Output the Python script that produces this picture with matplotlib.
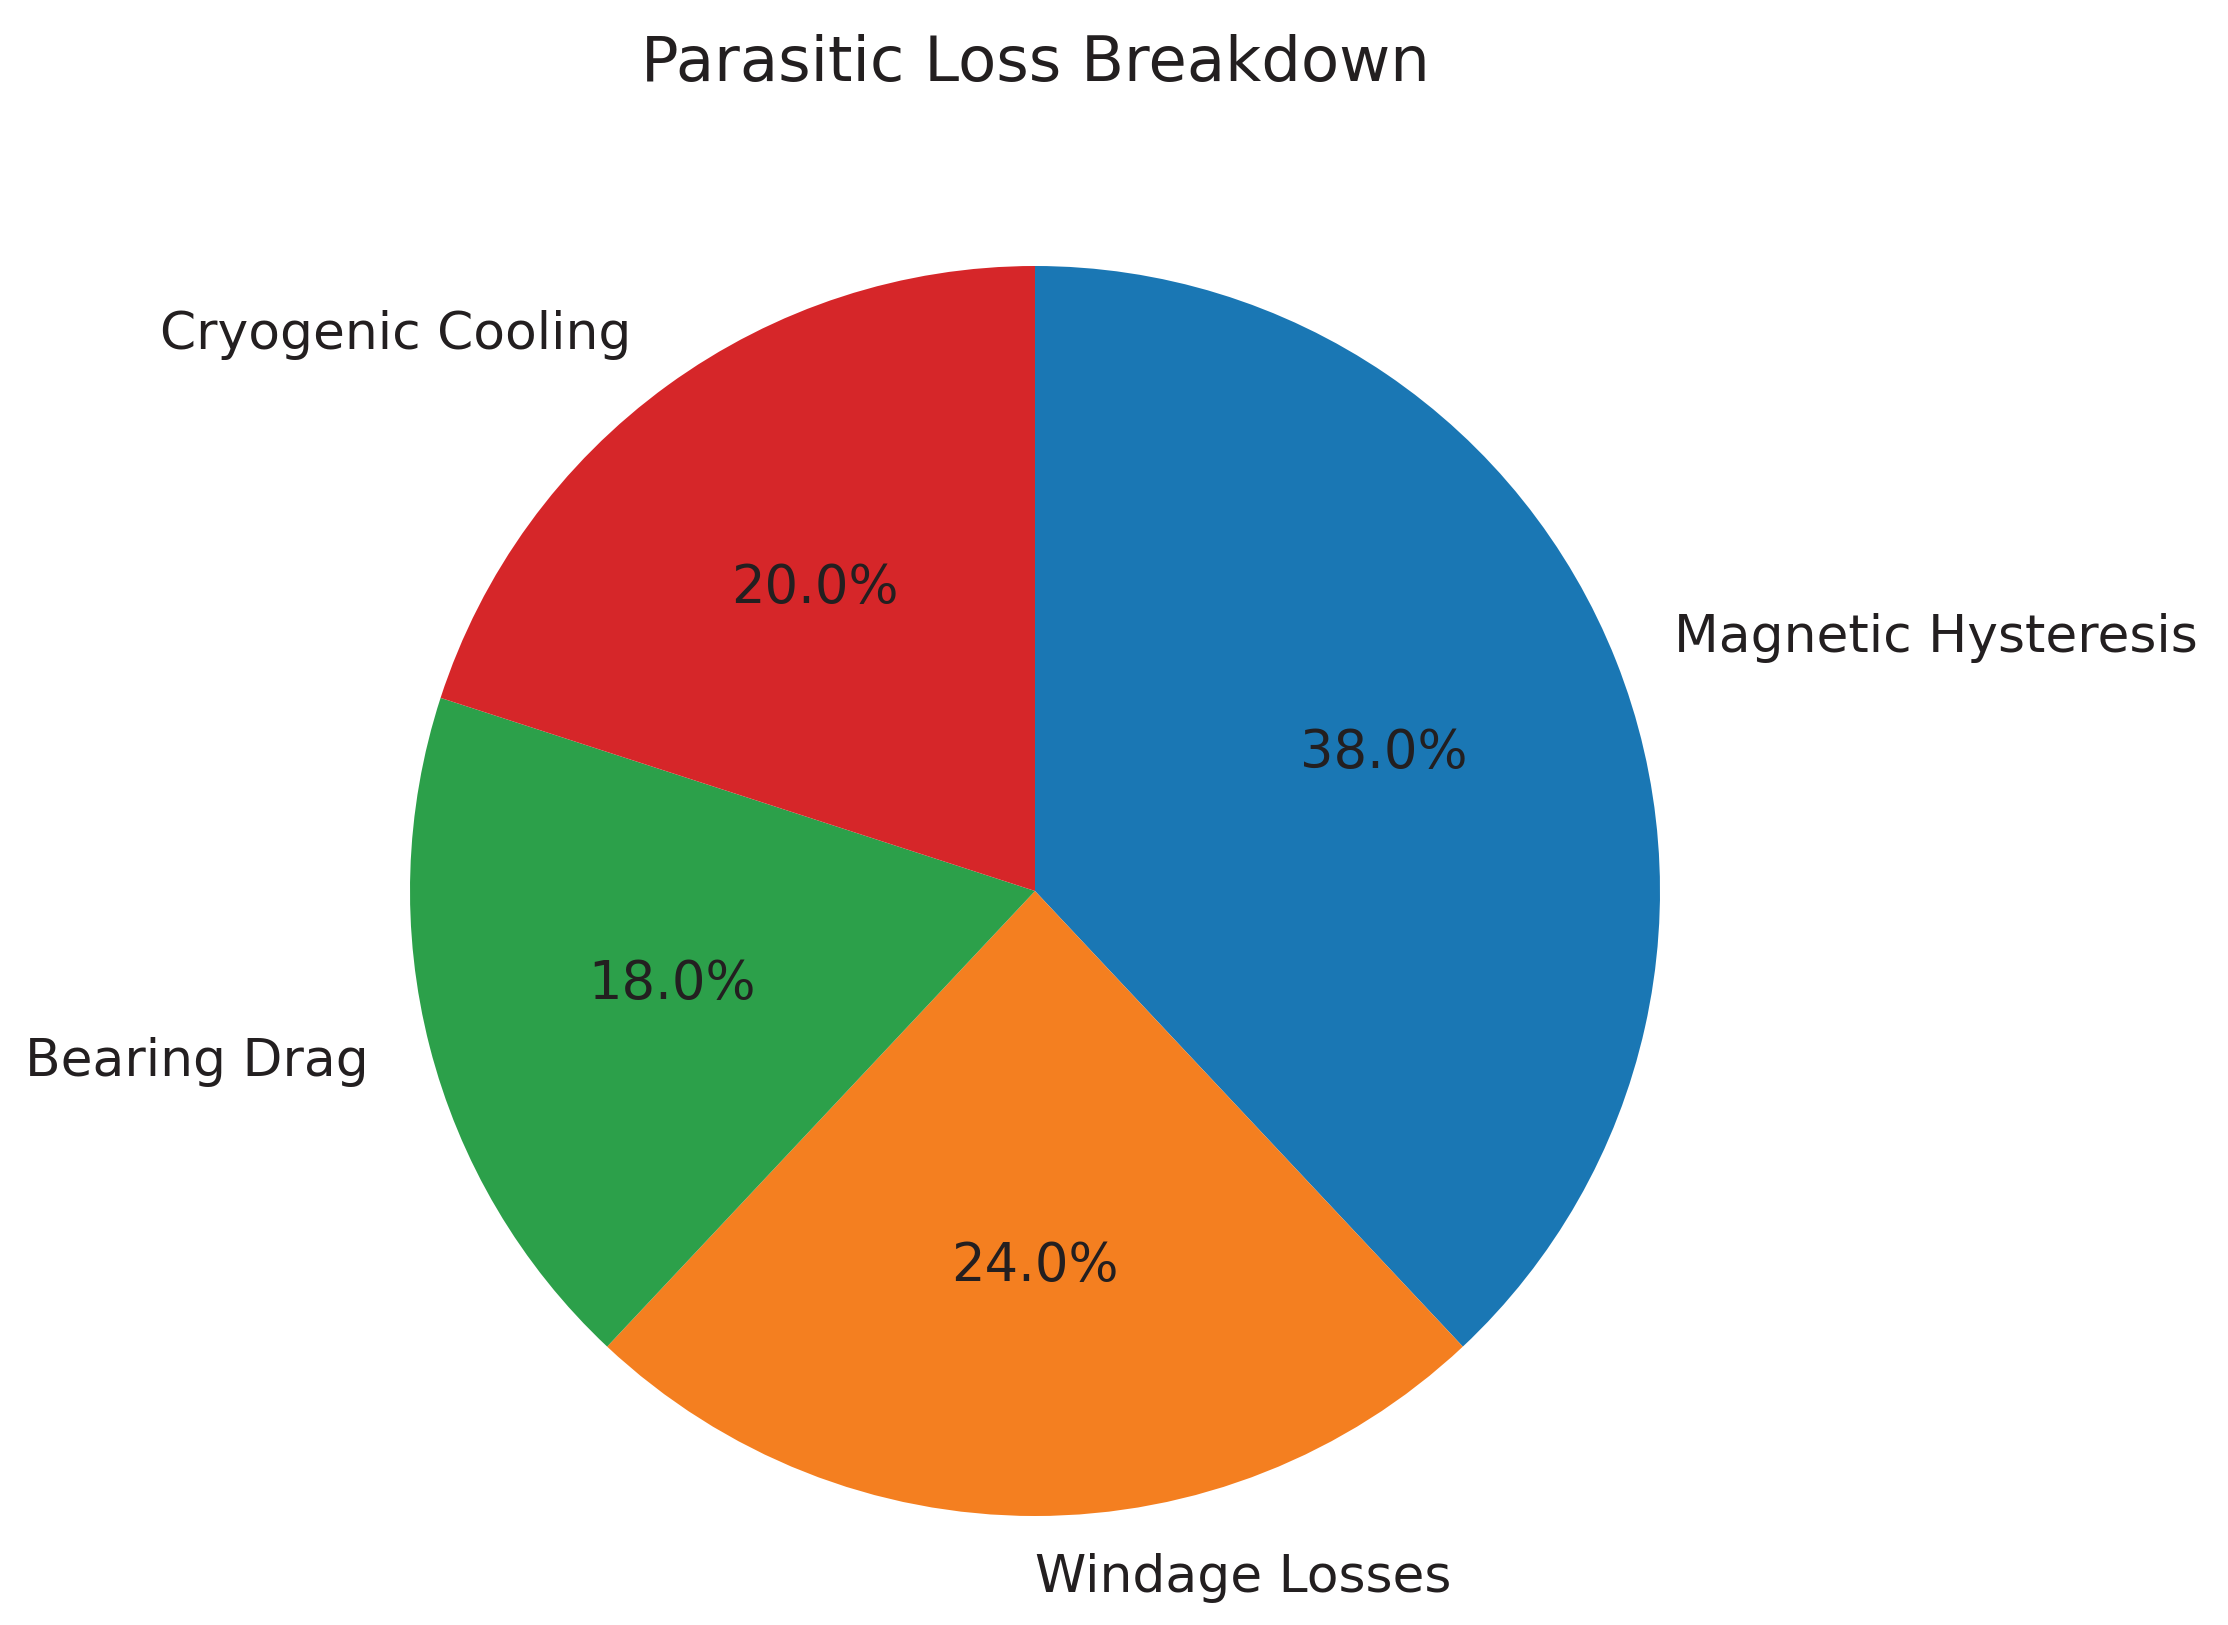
import matplotlib
matplotlib.use("Agg")
import matplotlib.pyplot as plt

labels = ["Magnetic Hysteresis", "Windage Losses", "Bearing Drag", "Cryogenic Cooling"]
values = [38.0, 24.0, 18.0, 20.0]
colors = ["#1a77b4", "#f47f20", "#2ca04a", "#d62629"]
text_color = "#231f20"

W, H = 2228, 1625
fig = plt.figure(figsize=(W / 200, H / 200), dpi=200)
cx, cy, r = 1035, 891, 625
side = 2.5 * r
ax = fig.add_axes([(cx - side / 2) / W, ((H - cy) - side / 2) / H, side / W, side / H])
wedges, texts, autotexts = ax.pie(values, labels=labels, colors=colors, autopct='%1.1f%%',
                                  startangle=90, counterclock=False,
                                  textprops={'fontsize': 18.7, 'color': text_color})
for t in autotexts:
    t.set_fontsize(19)
texts[1].set_ha('left')
fig.text(cx / W, 1 - 64 / H, "Parasitic Loss Breakdown", fontsize=22.5, color=text_color,
         ha='center', va='center')
fig.savefig("out.png", dpi=200)
